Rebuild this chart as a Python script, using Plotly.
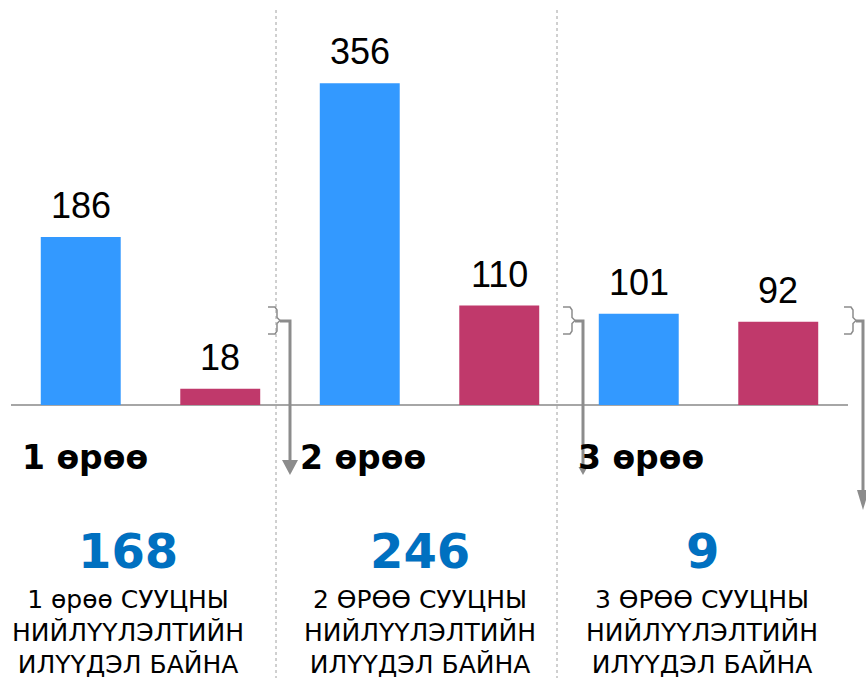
import plotly.graph_objects as go

# Data
groups = ["1 өрөө", "2 өрөө", "3 өрөө"]
supply = [186, 356, 101]
demand = [18, 110, 92]
captions = [
    "1 өрөө СУУЦНЫ<br>НИЙЛҮҮЛЭЛТИЙН<br>ИЛҮҮДЭЛ БАЙНА",
    "2 ӨРӨӨ СУУЦНЫ<br>НИЙЛҮҮЛЭЛТИЙН<br>ИЛҮҮДЭЛ БАЙНА",
    "3 ӨРӨӨ СУУЦНЫ<br>НИЙЛҮҮЛЭЛТИЙН<br>ИЛҮҮДЭЛ БАЙНА",
]
surplus = [s - d for s, d in zip(supply, demand)]

W, H = 866, 678
ML, MR = 11, 18
PW = W - ML - MR

BLUE = "#3399ff"
CRIMSON = "#c0396b"
NUM_BLUE = "#0070c0"
GRAY = "#8c8c8c"

x_supply = [2 * i for i in range(len(groups))]
x_demand = [2 * i + 1 for i in range(len(groups))]


def fx(px):
    """page x pixel -> paper fraction"""
    return (px - ML) / PW


def fy(py):
    """page y pixel -> paper fraction"""
    return 1 - py / H


fig = go.Figure()
fig.add_trace(go.Bar(x=x_supply, y=supply, marker_color=BLUE, width=0.573,
                     marker_line_width=0, hoverinfo="skip"))
fig.add_trace(go.Bar(x=x_demand, y=demand, marker_color=CRIMSON, width=0.573,
                     marker_line_width=0, hoverinfo="skip"))

annotations = []
# value labels above the bars
for xs, vals in ((x_supply, supply), (x_demand, demand)):
    for x, v in zip(xs, vals):
        annotations.append(dict(
            x=x, y=v, xref="x", yref="y", text=str(v), showarrow=False,
            yanchor="bottom", yshift=9,
            font=dict(family="Liberation Sans, Arial, sans-serif", size=36, color="#000000"),
        ))

group_left = [20, 298, 576]
group_center = [128, 420, 702]
for i, g in enumerate(groups):
    annotations.append(dict(
        x=fx(group_left[i]), y=fy(457), xref="paper", yref="paper",
        text=f"<b>{g}</b>", showarrow=False, xanchor="left", yanchor="middle",
        font=dict(family="DejaVu Sans, Verdana, sans-serif", size=33, color="#000000"),
    ))
    annotations.append(dict(
        x=fx(group_center[i]), y=fy(551), xref="paper", yref="paper",
        text=f"<b>{surplus[i]}</b>", showarrow=False, xanchor="center", yanchor="middle",
        font=dict(family="DejaVu Sans, Verdana, sans-serif", size=48, color=NUM_BLUE),
    ))
    annotations.append(dict(
        x=fx(group_center[i]), y=fy(632), xref="paper", yref="paper",
        text=captions[i], showarrow=False, xanchor="center", yanchor="middle",
        font=dict(family="DejaVu Sans, Verdana, sans-serif", size=25, color="#000000"),
    ))

shapes = []
# dotted group separators
for sx in (276, 557):
    shapes.append(dict(type="line", xref="paper", yref="paper",
                       x0=fx(sx), x1=fx(sx), y0=fy(10), y1=fy(H),
                       line=dict(color="#a0a0a0", width=1, dash="dot")))


def brace_path(x0, y0, y1, xm):
    ym = (y0 + y1) / 2
    pts = [(x0, y0), (xm - 2, y0), (xm, y0 + 3), (xm, ym - 3), (xm + 3, ym),
           (xm, ym + 3), (xm, y1 - 3), (xm - 2, y1), (x0, y1)]
    return "M " + " L ".join(f"{fx(a):.5f},{fy(b):.5f}" for a, b in pts)


def tri_path(cx, tip, w, h):
    pts = [(cx - w / 2, tip - h), (cx + w / 2, tip - h), (cx, tip)]
    return "M " + " L ".join(f"{fx(a):.5f},{fy(b):.5f}" for a, b in pts) + " Z"


# brackets with downward arrows: (brace left, brace spine, arrow x, tip y, head w, head h)
arrows = [(268, 277, 290, 475, 16, 15), (563, 572, 583, 475, 9, 8), (844, 853, 863, 510, 12, 20)]
for bl, bs, ax, tip, hw, hh in arrows:
    shapes.append(dict(type="path", xref="paper", yref="paper",
                       path=brace_path(bl, 307, 334, bs),
                       line=dict(color=GRAY, width=1.5)))
    shapes.append(dict(type="path", xref="paper", yref="paper",
                       path=f"M {fx(bs + 3):.5f},{fy(321):.5f} L {fx(ax):.5f},{fy(321):.5f} "
                            f"L {fx(ax):.5f},{fy(tip - hh + 1):.5f}",
                       line=dict(color=GRAY, width=3)))
    shapes.append(dict(type="path", xref="paper", yref="paper",
                       path=tri_path(ax, tip, hw, hh),
                       fillcolor=GRAY, line=dict(color=GRAY, width=0)))

px_per_unit = 0.9037
baseline_px = 405
fig.update_layout(
    width=W, height=H,
    margin=dict(l=ML, r=MR, t=0, b=0, pad=0),
    paper_bgcolor="white", plot_bgcolor="white",
    showlegend=False, barmode="overlay",
    xaxis=dict(range=[-0.5, 5.5], visible=False, fixedrange=True),
    yaxis=dict(range=[-(H - baseline_px) / px_per_unit, baseline_px / px_per_unit],
               showgrid=False, showticklabels=False, ticks="",
               zeroline=True, zerolinecolor="#a6a6a6", zerolinewidth=2, fixedrange=True),
    annotations=annotations,
    shapes=shapes,
)

fig.write_html("out.html", config={"displayModeBar": False})
